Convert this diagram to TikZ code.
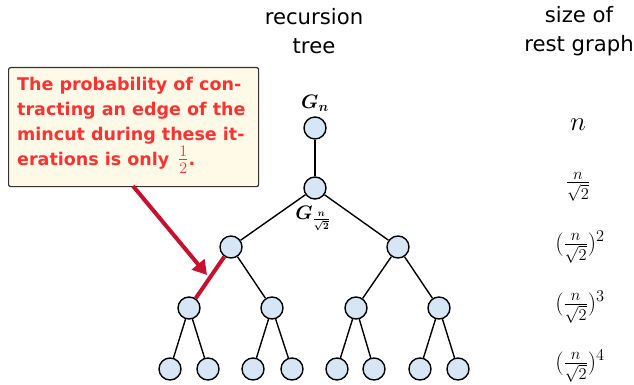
\RequirePackage{fix-cm}
\documentclass[tikz,border=0pt]{standalone}
\usepackage{amsmath}
\usepackage{bm}
\usepackage{fontspec}
\setmainfont{DejaVu Sans}
\usetikzlibrary{arrows.meta}
\definecolor{nodefill}{RGB}{214,230,245}
\definecolor{boxfill}{RGB}{255,250,232}
\definecolor{boxtext}{RGB}{250,50,50}
\definecolor{darkred}{RGB}{200,16,46}
\begin{document}
\begin{tikzpicture}[x=1pt,y=-1pt,
  tn/.style={circle,draw=black,fill=nodefill,line width=1.4pt,minimum size=22pt,inner sep=0pt},
  te/.style={draw=black,line width=1.4pt},
  hdr/.style={font=\fontsize{21.2}{29}\selectfont,align=center},
  sz/.style={font=\fontsize{23.5}{26}\selectfont}]
\useasboundingbox (0,0) rectangle (634,385);
% headers
\node[hdr] (h1) at (314,31) {recursion\\tree};
\node[hdr] (h2) at (579,31) {size of\\rest graph};
% tree nodes
\node[tn] (r) at (315,128) {};
\node[tn] (a) at (315,188) {};
\node[tn] (b1) at (231,247) {};
\node[tn] (b2) at (398,247) {};
\node[tn] (c1) at (189,308) {};
\node[tn] (c2) at (272,308) {};
\node[tn] (c3) at (356,308) {};
\node[tn] (c4) at (439,308) {};
\node[tn] (d1) at (170,369) {};
\node[tn] (d2) at (208,369) {};
\node[tn] (d3) at (253,369) {};
\node[tn] (d4) at (292,369) {};
\node[tn] (d5) at (337,369) {};
\node[tn] (d6) at (374,369) {};
\node[tn] (d7) at (420,369) {};
\node[tn] (d8) at (458,369) {};
% edges
\draw[te] (r) -- (a);
\draw[te] (a) -- (b1);
\draw[te] (a) -- (b2);
\draw[darkred,line width=4pt] (b1) -- (c1);
\draw[te] (b1) -- (c2);
\draw[te] (b2) -- (c3);
\draw[te] (b2) -- (c4);
\draw[te] (c1) -- (d1);
\draw[te] (c1) -- (d2);
\draw[te] (c2) -- (d3);
\draw[te] (c2) -- (d4);
\draw[te] (c3) -- (d5);
\draw[te] (c3) -- (d6);
\draw[te] (c4) -- (d7);
\draw[te] (c4) -- (d8);
% labels
\node[font=\fontsize{19.5}{22}\selectfont] (lr) at (315,103) {$\bm{G_n}$};
\node[font=\fontsize{19.5}{22}\selectfont] (la) at (313,218) {$\bm{G_{\frac{n}{\sqrt{2}}}}$};
% size column
\node[font=\fontsize{27}{30}\selectfont] (s0) at (578,125) {$n$};
\node[sz] (s1) at (578,187) {$\frac{n}{\sqrt{2}}$};
\node[sz] (s2) at (580,247) {$(\frac{n}{\sqrt{2}})^2$};
\node[sz] (s3) at (580,307) {$(\frac{n}{\sqrt{2}})^3$};
\node[sz] (s4) at (580,366) {$(\frac{n}{\sqrt{2}})^4$};
% callout box
\node[draw=black!80,line width=1.2pt,fill=boxfill,rounded corners=2pt,minimum width=250pt,minimum height=119pt,anchor=north west] (box) at (8,67) {};
\node[anchor=north west,align=left,text=boxtext,font=\bfseries\fontsize{17.5}{25}\selectfont,inner sep=0pt] (boxtxt) at (17,77)
 {The probability of con-\\tracting an edge of the\\mincut during these it-\\erations is only \,{\fontsize{23}{25}\selectfont$\frac{1}{2}$}.};
\coordinate (tip) at (207,275);
\draw[darkred,line width=4pt,-{Triangle[length=14pt,width=16pt]}] (133,186) -- (tip);
\end{tikzpicture}
\end{document}
